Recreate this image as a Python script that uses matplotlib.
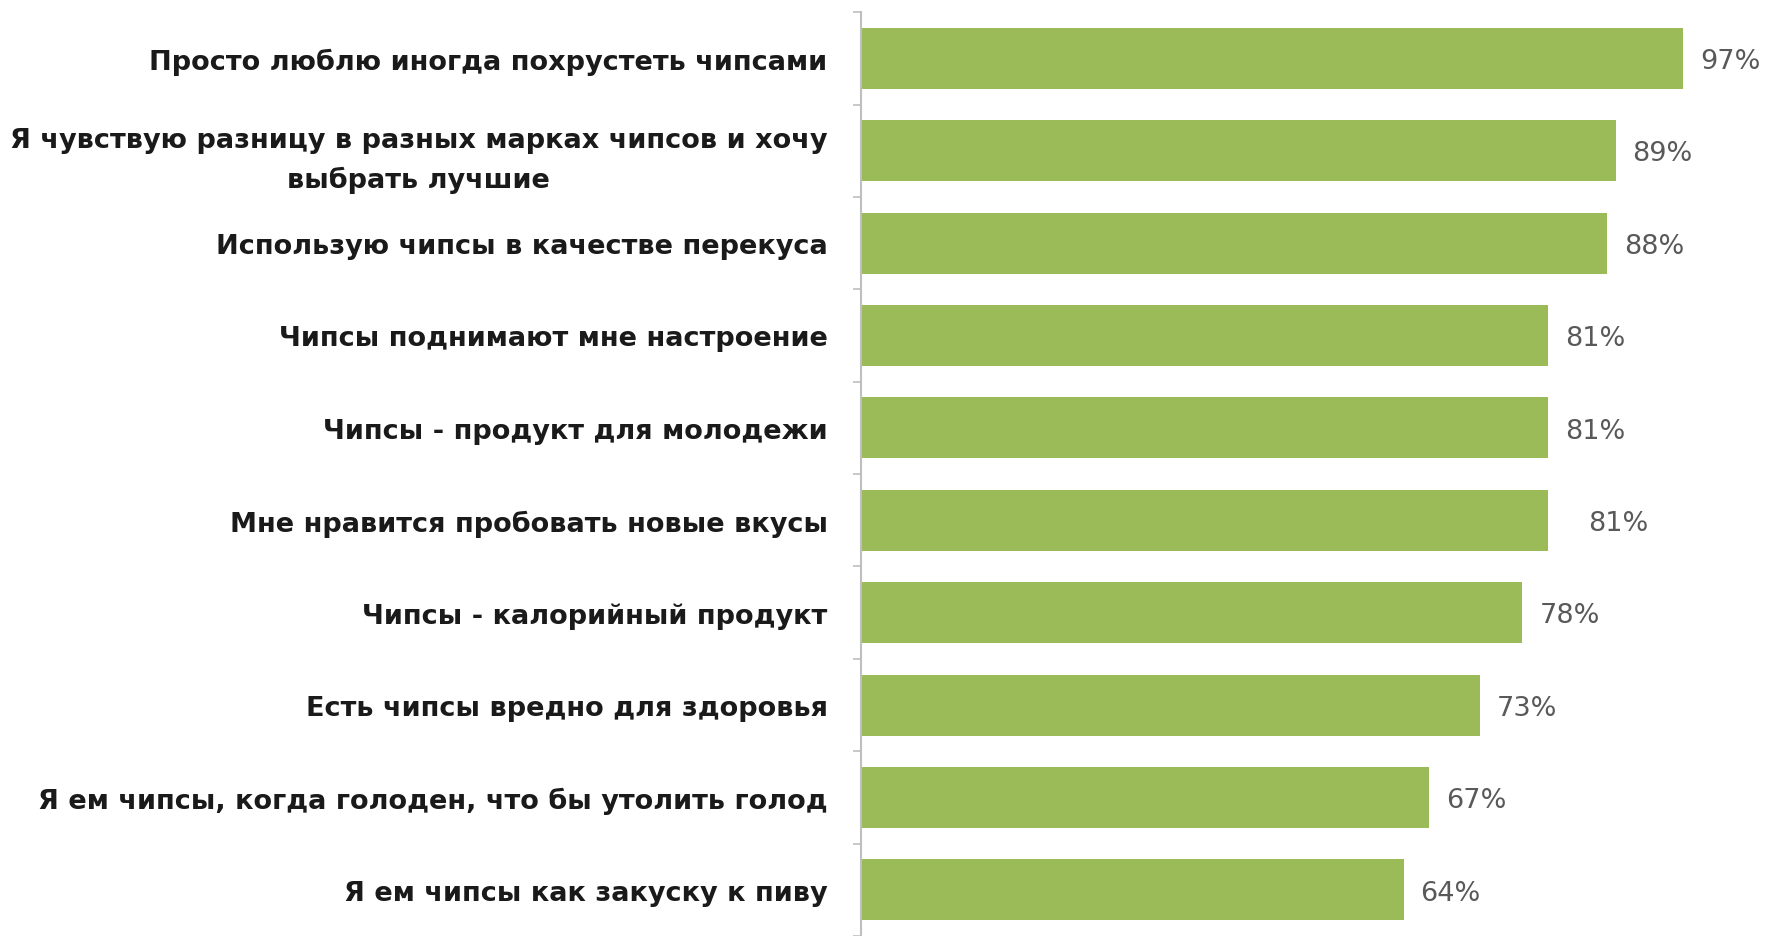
import numpy as np
import matplotlib
matplotlib.use('Agg')
import matplotlib.pyplot as plt

statements = [
    'Просто люблю иногда похрустеть чипсами',
    'Я чувствую разницу в разных марках чипсов и хочу\nвыбрать лучшие',
    'Использую чипсы в качестве перекуса',
    'Чипсы поднимают мне настроение',
    'Чипсы - продукт для молодежи',
    'Мне нравится пробовать новые вкусы',
    'Чипсы - калорийный продукт',
    'Есть чипсы вредно для здоровья',
    'Я ем чипсы, когда голоден, что бы утолить голод',
    'Я ем чипсы как закуску к пиву',
]
shares = [97, 89, 88, 81, 81, 81, 78, 73, 67, 64]

fig = plt.figure(figsize=(17.81, 9.37), dpi=100)
ax = fig.add_axes([0.4834, 0.0, 0.5166, 0.986])

y = np.arange(len(statements))
ax.barh(y, shares, height=0.66, color='#9bbb59', zorder=2)
ax.set_ylim(len(statements) - 0.5, -0.5)
ax.set_xlim(0, 108.5)

# category labels on the left
ax.set_yticks(y)
ax.set_yticklabels(statements, fontsize=19.5, fontweight='bold', color='#1a1a1a',
                   multialignment='center', linespacing=1.6)
ax.tick_params(axis='y', which='major', length=0, pad=24)
ax.set_yticks(np.arange(len(statements) + 1) - 0.5, minor=True)
ax.tick_params(axis='y', which='minor', length=6, width=1.2, color='#bfbfbf')
ax.set_xticks([])

for side in ['top', 'right', 'bottom']:
    ax.spines[side].set_visible(False)
ax.spines['left'].set_color('#bfbfbf')
ax.spines['left'].set_linewidth(1.5)

# percentage labels; the sixth one sits a little further out
nudge = {5: 2.8}
for i, v in enumerate(shares):
    ax.text(v + 2.0 + nudge.get(i, 0), i + 0.03, f'{v}%', va='center', ha='left',
            fontsize=19.5, color='#595959')

fig.savefig('out.png', dpi=100)
